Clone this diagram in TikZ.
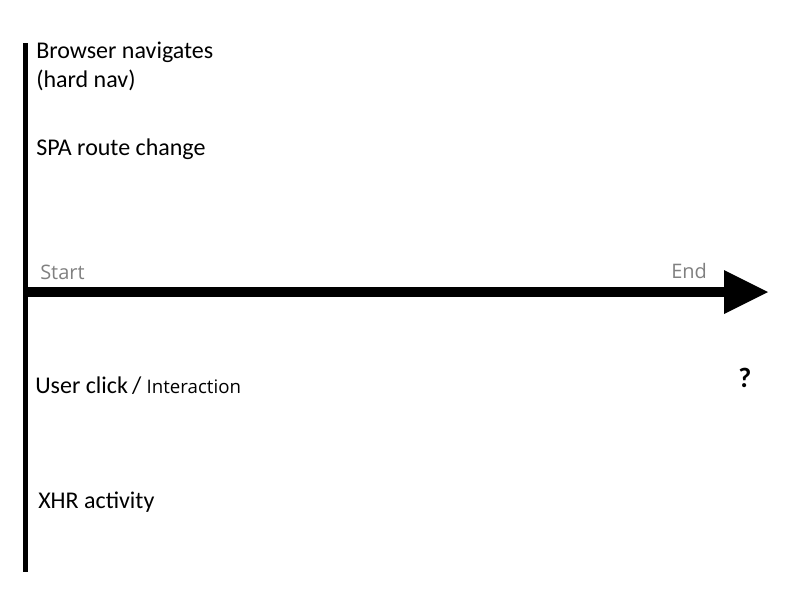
\documentclass[tikz,border=0pt]{standalone}
\usepackage{fontspec}
\setmainfont{Carlito}
\newfontfamily\uifont{Open Sans}
\definecolor{lbl}{RGB}{128,128,128}
\begin{document}
\begin{tikzpicture}[x=0.75pt,y=-0.75pt,
  evt/.style={anchor=base west,inner sep=0pt,font=\fontsize{18}{22}\selectfont,align=left},
  endlbl/.style={anchor=base west,inner sep=0pt,text=lbl,font=\uifont\fontsize{15}{18}\selectfont},
  axisline/.style={line width=3.75pt,draw=black},
  arrowline/.style={line width=7.5pt,draw=black}]
\useasboundingbox (0,0) rectangle (800,600);
\coordinate (vtop) at (25.5,43);
\coordinate (vbot) at (25.5,572);
\coordinate (hstart) at (23,292);
\coordinate (hend) at (726,292);
\draw[axisline] (vtop) -- (vbot);
\draw[arrowline] (hstart) -- (hend);
\fill (724,270) -- (768,292) -- (724,314) -- cycle;
\node[evt] (nav) at (36,58) {Browser navigates};
\node[evt] (nav2) at (36,87) {(hard nav)};
\node[evt] (spa) at (36,155) {SPA route change};
\node[evt] (click) at (35,393) {User click\,/ {\uifont\fontsize{14}{16}\selectfont Interaction}};
\node[evt] (xhr) at (38,508) {XHR activity};
\node[endlbl] (start) at (40,279) {Start};
\node[endlbl] (end) at (671,278) {End};
\node[anchor=base west,inner sep=0pt,font=\bfseries\fontsize{21}{24}\selectfont] (q) at (738,387) {?};
\end{tikzpicture}
\end{document}
